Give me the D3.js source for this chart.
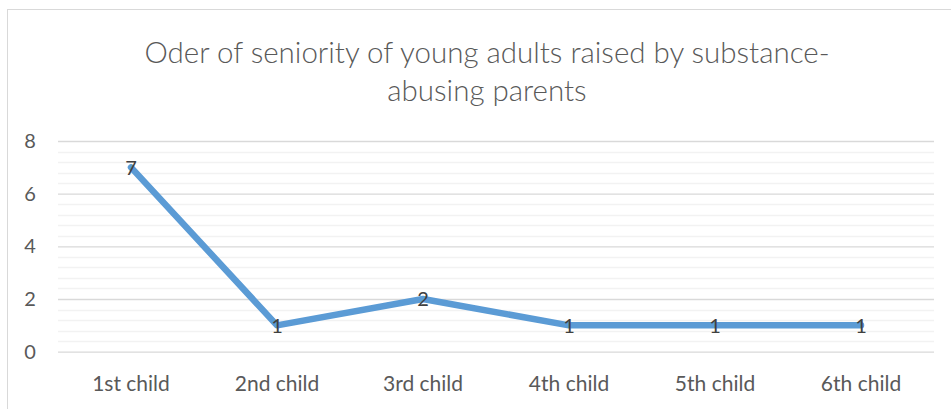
<!DOCTYPE html>
<html>
<head>
<meta charset="utf-8">
<script src="https://cdn.jsdelivr.net/npm/d3@7"></script>
<style>
  html, body { margin: 0; padding: 0; background: #fff; }
  svg { display: block; }
  text { font-family: Lato, "Open Sans", sans-serif; }
</style>
</head>
<body>
<svg id="chart" width="951" height="409"></svg>
<script>
// Birth order of young adults raised by substance-abusing parents
const categories = ["1st child", "2nd child", "3rd child", "4th child", "5th child", "6th child"];
const counts = [7, 1, 2, 1, 1, 1];
const yTicks = [0, 2, 4, 6, 8];
const titleLines = ["Oder of seniority of young adults raised by substance-", "abusing parents"];

const svg = d3.select("#chart");
const W = 951, H = 409;
const plot = { left: 58, right: 934, top: 141, bottom: 351.7 };

// chart frame (extends beyond the visible area on the right and bottom)
svg.append("rect")
  .attr("x", 7.5).attr("y", 9.5)
  .attr("width", W + 20).attr("height", H + 20)
  .attr("fill", "#fff").attr("stroke", "#d9d9d9").attr("stroke-width", 1);

const x = d3.scaleBand().domain(categories).range([plot.left, plot.right]);
const y = d3.scaleLinear().domain([0, 8]).range([plot.bottom, plot.top]);

// minor gridlines every 0.4
const minor = d3.range(0, 8.0001, 0.4).filter(v => Math.abs(v / 2 - Math.round(v / 2)) > 1e-6);
svg.append("g").selectAll("line").data(minor).join("line")
  .attr("x1", plot.left).attr("x2", plot.right)
  .attr("y1", d => Math.round(y(d)) + 0.5).attr("y2", d => Math.round(y(d)) + 0.5)
  .attr("stroke", "#f2f2f2").attr("stroke-width", 1.3);

// major gridlines
const yAxis = d3.axisLeft(y).tickValues(yTicks).tickSize(-(plot.right - plot.left)).tickPadding(28).tickFormat(d3.format("d"));
const gy = svg.append("g").attr("transform", `translate(${plot.left},0)`).call(yAxis);
gy.select(".domain").remove();
gy.selectAll(".tick line").attr("stroke", "#d9d9d9").attr("stroke-width", 1.3);
gy.selectAll(".tick text").attr("fill", "#595959").style("font-size", "20px").attr("text-anchor", "middle");

// category axis
const xAxis = d3.axisBottom(x).tickSize(0).tickPadding(24);
const gx = svg.append("g").attr("transform", `translate(0,${plot.bottom})`).call(xAxis);
gx.select(".domain").remove();
gx.selectAll(".tick text").attr("fill", "#595959").style("font-size", "21px");

// series line
const line = d3.line()
  .x((d, i) => x(categories[i]) + x.bandwidth() / 2)
  .y(d => y(d));
svg.append("path").datum(counts)
  .attr("d", line)
  .attr("fill", "none").attr("stroke", "#5b9bd5")
  .attr("stroke-width", 6.5).attr("stroke-linejoin", "round").attr("stroke-linecap", "round");

// value labels centred on the points
svg.append("g").selectAll("text").data(counts).join("text")
  .attr("x", (d, i) => x(categories[i]) + x.bandwidth() / 2)
  .attr("y", d => y(d))
  .attr("dy", "0.36em")
  .attr("text-anchor", "middle")
  .attr("fill", "#404040")
  .style("font-size", "20px")
  .text(d => d);

// title
svg.append("g").selectAll("text").data(titleLines).join("text")
  .attr("x", 487)
  .attr("y", (d, i) => 63 + i * 38)
  .attr("text-anchor", "middle")
  .attr("fill", "#595959")
  .style("font-size", "29.5px")
  .style("font-weight", 300)
  .text(d => d);
</script>
</body>
</html>
